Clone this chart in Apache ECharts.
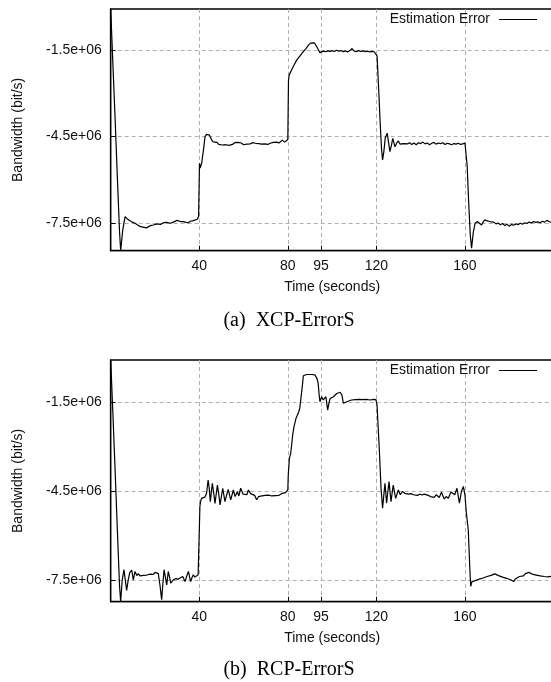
<!DOCTYPE html>
<html>
<head>
<meta charset="utf-8">
<script src="https://cdn.jsdelivr.net/npm/echarts@6/dist/echarts.min.js"></script>
<style>
html,body{margin:0;padding:0;background:#fff;overflow:hidden;}
#chart{width:551px;height:682px;}
</style>
</head>
<body>
<div id="chart"></div>
<script>
// Values in units of 1e6 bit/s
const xTickValues = [40, 80, 95, 120, 160];
const yTickValues = [-7.5, -4.5, -1.5];
const yTickLabels = ['-7.5e+06', '-4.5e+06', '-1.5e+06'];
const seriesName = 'Estimation Error';
const captionA = '(a)\u00a0\u00a0XCP-ErrorS';
const captionB = '(b)\u00a0\u00a0RCP-ErrorS';

const xcpTime = [0,1,2,3,4,4.5,5.5,6.5,7.5,8.7,10,11,12,13.2,14,15,15.5,16.2,17,18,19.2,20,21,21.5,22.5,23.8,24.5,25.2,26,27,28.3,29,30,30.5,31.5,32.2,32.8,34,35,36,37.3,38.2,39.1,39.7,40,40.1,40.4,41.1,42,42.6,43.3,44,44.6,45.6,46.3,47.1,48,48.8,49.5,50.3,51,52,52.8,53.5,54.3,55,56,56.8,57.5,58.3,59,60,60.8,61.5,62.3,63,64,64.8,65.5,66.3,67,68,68.8,69.5,70.3,71,72,72.8,73.5,74.3,75,76,76.8,77.5,78,78.6,79.5,80,80.3,80.6,81.7,82.8,84,85.5,87,88.2,89.3,90.3,91.2,92,93,94,94.5,95.2,96,97,98,99,100,101,102,103,104,105,106,107,108,109,110,111,112,113,114,115,116,117,118,119,119.8,120.3,121,121.7,122.3,122.8,123.4,124,124.9,125.5,126.1,126.8,127.4,128.4,129.2,129.9,130.7,131.5,132.2,133,134,135,136,137,138,139,140,141,142,143,144,145,146,147,148,149,150,151,152,153,154,155,156,157,158,159,160,160.4,161,161.7,162.4,163,163.8,164.6,165.6,166.5,167.5,168.2,169,170,171.3,172,173,174,175,176,177,178,179,180,181,182,183,184,185,186,187,188,189,190,191,192,193,194,195,196,197,198,199,200];
const xcpError = [-0.08,-2.0,-3.9,-5.9,-7.8,-8.45,-7.7,-7.27,-7.35,-7.41,-7.47,-7.50,-7.55,-7.61,-7.58,-7.64,-7.60,-7.66,-7.67,-7.58,-7.56,-7.60,-7.52,-7.50,-7.54,-7.48,-7.52,-7.47,-7.52,-7.50,-7.46,-7.50,-7.40,-7.38,-7.44,-7.41,-7.44,-7.47,-7.48,-7.43,-7.41,-7.44,-7.36,-7.27,-7.30,-5.42,-5.59,-5.42,-4.9,-4.5,-4.42,-4.38,-4.45,-4.61,-4.68,-4.73,-4.70,-4.77,-4.72,-4.79,-4.74,-4.78,-4.73,-4.80,-4.75,-4.77,-4.71,-4.76,-4.70,-4.74,-4.72,-4.78,-4.73,-4.76,-4.72,-4.75,-4.71,-4.77,-4.73,-4.78,-4.74,-4.76,-4.71,-4.75,-4.72,-4.77,-4.73,-4.76,-4.70,-4.73,-4.69,-4.72,-4.66,-4.62,-4.56,-4.69,-4.66,-4.60,-2.55,-2.37,-2.19,-2.02,-1.85,-1.70,-1.56,-1.45,-1.33,-1.26,-1.21,-1.25,-1.38,-1.52,-1.59,-1.56,-1.54,-1.56,-1.53,-1.55,-1.52,-1.55,-1.51,-1.54,-1.52,-1.56,-1.53,-1.57,-1.52,-1.45,-1.54,-1.56,-1.52,-1.55,-1.53,-1.56,-1.54,-1.57,-1.55,-1.56,-1.53,-1.7,-2.8,-4.0,-4.9,-5.31,-5.0,-4.55,-4.38,-4.7,-5.02,-4.8,-4.56,-4.85,-4.72,-4.65,-4.76,-4.70,-4.74,-4.68,-4.75,-4.71,-4.77,-4.72,-4.78,-4.71,-4.74,-4.69,-4.75,-4.72,-4.78,-4.73,-4.70,-4.76,-4.72,-4.74,-4.71,-4.77,-4.73,-4.75,-4.78,-4.74,-4.76,-4.73,-4.77,-4.75,-4.72,-4.68,-5.5,-6.8,-7.9,-8.36,-7.8,-7.5,-7.44,-7.50,-7.56,-7.46,-7.38,-7.42,-7.44,-7.48,-7.46,-7.52,-7.49,-7.55,-7.51,-7.58,-7.53,-7.60,-7.54,-7.57,-7.52,-7.55,-7.50,-7.53,-7.48,-7.51,-7.46,-7.49,-7.44,-7.47,-7.45,-7.48,-7.43,-7.46,-7.40,-7.44,-7.47,-7.45];

const rcpTime = [0,1,2,3,4,4.5,5.2,6.0,6.6,7.2,7.9,8.6,9.5,10.2,11.0,11.8,12.5,13.2,14,14.8,15.5,16.3,17,17.8,18.5,19.3,20,20.8,21.5,22.3,23.0,23.6,24.1,24.7,25.3,26.0,26.6,27.1,28.3,29.5,30.5,31.5,32.5,33.6,34.4,35.1,35.6,36.1,36.7,37.3,38.0,38.8,39.5,40,40.3,40.6,41,41.8,42.5,43.3,44,44.5,45,45.9,46.5,47.1,48.2,48.8,49.4,50.6,51.6,52.4,53.1,54.2,55.4,56.2,57.2,57.9,58.7,59.8,60.7,61.5,62.2,63.2,64,65,65.9,66.8,67.5,68.3,69,69.8,70.5,71.3,72,72.8,73.6,74.4,75.2,76,76.8,77.5,78.3,79,79.5,80,80.2,80.7,81.3,81.7,82.2,82.8,83.7,84.7,85.4,86.2,86.6,87,88.5,90.8,92.2,92.7,93.2,93.7,94.1,94.5,95.3,96,96.5,97.2,98,98.5,99.1,100.6,102.1,103.6,104.4,105.1,105.8,106.6,107.5,108.8,109.6,110.5,111.4,112.2,113,113.8,114.6,115.5,116.3,117.1,117.9,118.8,119.8,120.3,121.3,122.1,122.8,123.4,123.9,124.6,125.7,126.6,127.6,128.7,129.9,130.8,131.8,132.8,133.7,134.6,135.6,136.7,137.6,138.5,139.6,140.6,141.6,142.5,143.4,144.4,145.2,146.1,147.0,147.6,148.4,149.4,150.6,151.5,152.5,153.7,154.6,155.4,156.4,157.5,158.4,159.3,160,160.6,161.5,162.2,162.6,163.2,163.8,164.6,165.5,166.4,167.3,168.2,169.1,170,170.9,171.8,172.7,173.5,174.3,175.2,176.1,177,177.9,178.8,179.7,180.6,181.4,182.0,182.8,183.7,184.6,185.5,186.4,187.3,188.2,189.0,189.5,190.4,191.3,192.2,193.1,194,194.9,195.8,196.7,197.6,198.5,199.4,200];
const rcpError = [-0.07,-1.9,-3.8,-5.8,-7.7,-8.23,-7.5,-7.15,-7.5,-7.85,-7.5,-7.25,-7.16,-7.49,-7.21,-7.35,-7.28,-7.36,-7.30,-7.34,-7.29,-7.33,-7.27,-7.30,-7.26,-7.31,-7.24,-7.21,-7.28,-7.7,-8.16,-7.6,-7.15,-7.4,-7.66,-7.21,-7.4,-7.60,-7.49,-7.45,-7.47,-7.42,-7.38,-7.55,-7.35,-7.21,-7.38,-7.55,-7.42,-7.32,-7.40,-7.38,-7.32,-7.35,-5.0,-4.85,-4.74,-4.80,-4.70,-4.57,-4.12,-4.4,-4.85,-4.23,-4.55,-4.91,-4.29,-4.6,-4.96,-4.40,-4.85,-4.62,-4.44,-4.79,-4.46,-4.68,-4.52,-4.66,-4.40,-4.60,-4.55,-4.62,-4.46,-4.58,-4.55,-4.64,-4.79,-4.68,-4.62,-4.66,-4.60,-4.64,-4.58,-4.63,-4.62,-4.66,-4.60,-4.65,-4.61,-4.64,-4.60,-4.57,-4.62,-4.55,-4.51,-4.45,-3.95,-3.39,-3.22,-2.95,-2.6,-2.32,-2.04,-1.87,-1.70,-1.65,-0.92,-0.60,-0.56,-0.56,-0.57,-0.60,-0.70,-0.86,-1.2,-1.48,-1.31,-1.42,-1.37,-1.31,-1.76,-1.55,-1.37,-1.31,-1.2,-1.16,-1.25,-1.53,-1.47,-1.48,-1.44,-1.42,-1.45,-1.41,-1.44,-1.40,-1.43,-1.41,-1.44,-1.40,-1.43,-1.42,-1.44,-1.40,-1.41,-1.6,-3.05,-4.40,-5.07,-4.6,-4.23,-4.90,-4.17,-4.85,-4.29,-4.74,-4.46,-4.62,-4.51,-4.57,-4.55,-4.60,-4.58,-4.62,-4.58,-4.64,-4.60,-4.63,-4.60,-4.66,-4.64,-4.68,-4.65,-4.71,-4.62,-4.57,-4.71,-4.53,-4.76,-4.68,-4.74,-4.53,-4.51,-4.62,-4.40,-4.90,-4.51,-4.34,-4.62,-5.2,-5.80,-7.1,-7.71,-7.55,-7.60,-7.52,-7.55,-7.47,-7.51,-7.43,-7.47,-7.38,-7.44,-7.34,-7.40,-7.29,-7.26,-7.35,-7.31,-7.40,-7.36,-7.44,-7.41,-7.49,-7.45,-7.55,-7.46,-7.42,-7.38,-7.33,-7.36,-7.28,-7.31,-7.24,-7.21,-7.30,-7.26,-7.33,-7.29,-7.36,-7.32,-7.38,-7.34,-7.39,-7.35,-7.37,-7.36];

const FONT = '"Liberation Sans", Arial, sans-serif';
const SERIF = '"Liberation Serif", "Times New Roman", serif';
const TXT = '#111';

function pairs(t, v) { return t.map((x, i) => [x, v[i]]); }

const panels = [
  { top: 9, height: 241.7, ymin: -8.45, ymax: -0.08, t: xcpTime, v: xcpError, caption: captionA, capY: 321 },
  { top: 360, height: 241.7, ymin: -8.23, ymax: -0.07, t: rcpTime, v: rcpError, caption: captionB, capY: 670 }
];

const LEFT = 110.7, WIDTH = 442.8;

const option = {
  animation: false,
  backgroundColor: '#fff',
  grid: panels.map(p => ({ left: LEFT, top: p.top, width: WIDTH, height: p.height, outerBoundsMode: 'none', containLabel: false,
    show: true, borderColor: '#000', borderWidth: 1.3, backgroundColor: 'transparent' })),
  xAxis: panels.map((p, i) => ({
    type: 'value', gridIndex: i, min: 0, max: 200,
    name: 'Time (seconds)', nameLocation: 'middle', nameGap: 29,
    nameTextStyle: { fontFamily: FONT, fontSize: 14, color: TXT },
    axisLine: { show: true, lineStyle: { color: '#000', width: 1.3 } },
    axisTick: { show: true, inside: true, length: 5, customValues: xTickValues, lineStyle: { color: '#000' } },
    axisLabel: { customValues: xTickValues, margin: 8, fontFamily: FONT, fontSize: 14, color: TXT },
    splitLine: { show: true, lineStyle: { color: '#b0b0b0', type: [4, 3], width: 1 } }
  })),
  yAxis: panels.map((p, i) => ({
    type: 'value', gridIndex: i, min: p.ymin, max: p.ymax,
    name: 'Bandwidth (bit/s)', nameLocation: 'middle', nameGap: 86,
    nameTextStyle: { fontFamily: FONT, fontSize: 14, color: TXT },
    axisLine: { show: true, lineStyle: { color: '#000', width: 1.3 } },
    axisTick: { show: true, inside: true, length: 5, customValues: yTickValues, lineStyle: { color: '#000' } },
    axisLabel: { customValues: yTickValues, margin: 9, fontFamily: FONT, fontSize: 14, color: TXT,
      formatter: v => yTickLabels[yTickValues.indexOf(v)] },
    splitLine: { show: true, lineStyle: { color: '#b0b0b0', type: [4, 3], width: 1 } }
  })),
  series: panels.map((p, i) => ({
    name: seriesName, type: 'line', xAxisIndex: i, yAxisIndex: i,
    data: pairs(p.t, p.v), symbol: 'none', smooth: false,
    lineStyle: { color: '#000', width: 1.2 }
  })),
  graphic: panels.flatMap(p => [
    { type: 'text', x: 490, y: p.top + 10.5, z: 60,
      style: { text: seriesName, font: '14px ' + FONT, fill: TXT, align: 'right', verticalAlign: 'middle' } },
    { type: 'line', z: 60, shape: { x1: 499, y1: p.top + 10.5, x2: 537, y2: p.top + 10.5 }, style: { stroke: '#000', lineWidth: 1.2 } },
    { type: 'text', x: 289, y: p.capY, z: 60,
      style: { text: p.caption, font: '20px ' + SERIF, fill: '#000', align: 'center', verticalAlign: 'middle' } }
  ])
};

const chart = echarts.init(document.getElementById('chart'), null, { renderer: 'canvas' });
chart.setOption(option);
</script>
</body>
</html>
